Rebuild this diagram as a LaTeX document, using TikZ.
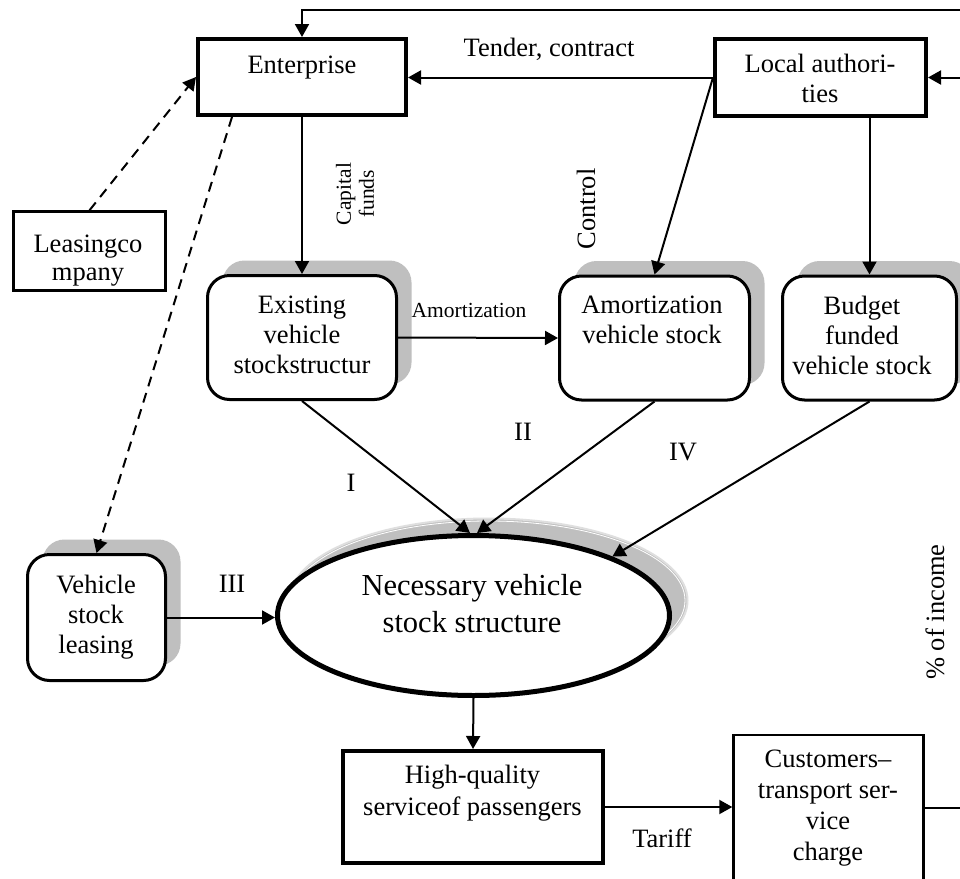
\documentclass[tikz,border=0pt]{standalone}
\usepackage{fontspec}
\setmainfont{Liberation Serif}
\usetikzlibrary{arrows.meta,shadows,calc,shapes.geometric}
\begin{document}
\begin{tikzpicture}[x=0.5pt,y=-0.5pt,
  every node/.style={font=\fontsize{13.25}{15}\selectfont},
  txt/.style={inner sep=0pt, align=center, anchor=base},
  smallfont/.style={font=\fontsize{10.75}{11.5}\selectfont},
  thickbox/.style={draw, line width=2pt, fill=white, inner sep=0pt},
  thinbox/.style={draw, line width=1.2pt, fill=white, inner sep=0pt},
  roundbox/.style={draw, line width=1.5pt, rounded corners=11pt, fill=white, inner sep=0pt,
     drop shadow={shadow xshift=7.5pt, shadow yshift=7.5pt, fill=gray!50, opacity=1}},
  arr/.style={-{Triangle[length=6.5pt,width=7pt]}, line width=1pt},
  dsh/.style={arr, dash pattern=on 5pt off 3.5pt}
]
\useasboundingbox (0,0) rectangle (960,879);
\fill[white] (0,0) rectangle (960,879);
\clip (0,0) rectangle (960,879);

% boxes
\node[thickbox, minimum width=104pt, minimum height=38pt] (ent) at (302,77) {};
\node[txt] (entT) at (302,73) {Enterprise};
\node[thickbox, minimum width=105.5pt, minimum height=38.5pt] (la) at (820.5,77.5) {};
\node[txt] (laT) at (820,102) {Local authori-\\ties};
\node[roundbox, minimum width=94.5pt, minimum height=62pt] (exist) at (302,337.5) {};
\node[txt] (existT) at (302,373) {Existing\\vehicle\\stockstructur};
\node[roundbox, minimum width=95pt, minimum height=62pt] (amort) at (654.5,338) {};
\node[txt] (amortT) at (652,343) {Amortization\\vehicle stock};
\node[roundbox, minimum width=87pt, minimum height=62pt] (budget) at (869.5,338) {};
\node[txt] (budgetT) at (862,374) {Budget\\funded\\vehicle stock};
\node[thinbox, minimum width=76pt, minimum height=39.5pt] (lc) at (89.5,251) {};
\node[txt, font=\fontsize{13.25}{14}\selectfont] (lcT) at (88,280) {Leasingco\\mpany};
\node[roundbox, minimum width=69pt, minimum height=63pt] (vsl) at (96.5,617.5) {};
\node[txt] (vslT) at (96,653) {Vehicle\\stock\\leasing};

% ellipse shadow
\fill[gray!50] (488.5,600.5) ellipse [x radius=199, y radius=82];
\draw[gray!25, line width=1pt] (488.5,600.5) ellipse [x radius=199, y radius=82];
\draw[white, line width=0.4pt] (488.5,600.5) ellipse [x radius=196.5, y radius=79.5];
\node[ellipse, draw, line width=2.5pt, fill=white, minimum width=196pt, minimum height=80pt, inner sep=0pt] (nec) at (473.5,615.5) {};
\node[txt, font=\fontsize{15.25}{18.5}\selectfont] (necT) at (472,632) {Necessary vehicle\\stock structure};

\node[thickbox, minimum width=130pt, minimum height=56pt] (hq) at (473,807) {};
\node[txt, font=\fontsize{13.25}{16}\selectfont] (hqT) at (472.5,815) {High-quality\\serviceof passengers};
\node[thinbox, minimum width=95pt, minimum height=85pt] (cust) at (828.5,820) {};
\node[txt, font=\fontsize{13.25}{15.5}\selectfont] (custT) at (828,860) {Customers--\\transport ser-\\vice\\charge};

% labels
\node[txt] (tender) at (549,56) {Tender, contract};
\node[smallfont, rotate=90, align=center, inner sep=0pt] (capf) at (355,194) {Capital\\funds};
\node[rotate=90, inner sep=0pt] (ctrl) at (586,209) {Control};
\node[smallfont, txt] (amlab) at (469,317) {Amortization};
\node[inner sep=0pt] (rI) at (351,483) {I};
\node[inner sep=0pt] (rII) at (523,432) {II};
\node[inner sep=0pt] (rIV) at (683,452) {IV};
\node[inner sep=0pt] (rIII) at (232,584) {III};
\node[rotate=90, inner sep=0pt] (inc) at (935,612) {\% of income};
\node[txt] (tariff) at (662,847) {Tariff};

% connectors
\coordinate (rb) at (975,808);
\coordinate (rt) at (975,10);
\draw[arr] (cust.east |- rb) -- (rb) -- (rt) -| (ent.north);
\draw[arr] (rt |- la.east) -- (la.east);
\draw[arr] (la.west) -- (la.west -| ent.east);
\draw[arr] (la.west) -- (amort.north);
\draw[arr] (budget.north |- la.south) -- (budget.north);
\draw[arr] (ent.south) -- (exist.north);
\draw[arr] (exist.east) -- (amort.west);
\draw[arr] (exist.south) -- ([xshift=-1.75pt]nec.north);
\draw[arr] (amort.south) -- ([xshift=1.75pt]nec.north);
\draw[arr] (budget.south) -- (nec.23);
\draw[dsh] (lc.north) -- (ent.west);
\draw[dsh] ($(ent.south)+(-70,0)$) -- (vsl.north);
\draw[arr] (vsl.east) -- (vsl.east -| nec.west);
\draw[arr] (nec.south) -- (hq.north);
\draw[arr] (hq.east) -- (hq.east -| cust.west);
\end{tikzpicture}
\end{document}
